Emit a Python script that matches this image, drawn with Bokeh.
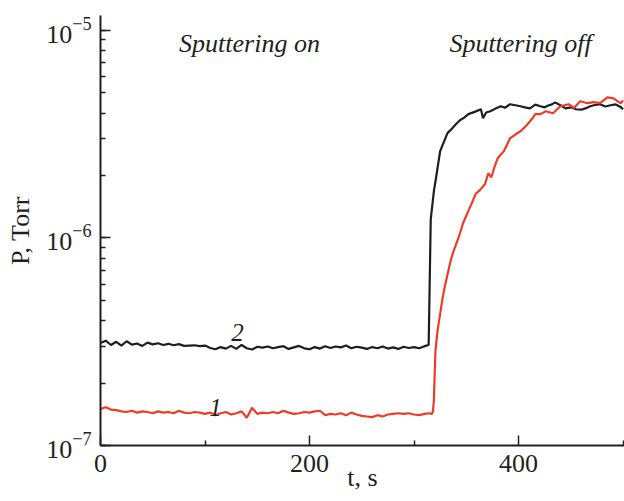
from bokeh.plotting import figure
from bokeh.models import Range1d, FixedTicker, LogTicker, Label
from bokeh.embed import file_html
from bokeh.resources import INLINE

# ---- data (pressure in units of 1e-7 Torr) ----
t_flat = list(range(0, 315, 5))

black_flat = [3.12, 3.20, 3.05, 3.16, 3.03, 3.18, 3.06, 3.10, 3.02, 3.13,
              3.07, 3.11, 3.05, 3.09, 3.04, 3.08, 3.02, 3.03, 3.04, 3.01,
              3.03, 2.95, 2.91, 2.98, 2.93, 3.02, 2.92, 3.05, 2.94, 2.90,
              2.99, 2.96, 3.00, 2.94, 2.98, 3.01, 2.92, 2.97, 3.02, 2.94,
              2.91, 2.98, 2.93, 3.01, 2.95, 3.00, 2.97, 3.03, 2.94, 2.99,
              2.96, 2.92, 2.98, 2.94, 3.00, 2.93, 2.97, 2.92, 2.99, 2.95,
              2.98, 2.94, 3.01]
black_rise_t = [314, 316, 319, 321, 325, 332, 336, 340, 344, 348, 352, 358,
                364, 366, 369, 373, 378, 383, 387, 392, 397, 402, 406, 411,
                416, 421, 425, 429, 432, 435, 440, 445, 450, 455, 460, 464,
                468, 472, 478, 483, 488, 493, 498, 500]
black_rise_p = [3.05, 12.3, 16.8, 19.4, 26.2, 32.0, 33.5, 35.3, 36.9, 38.0,
                39.5, 40.5, 41.7, 37.8, 40.2, 40.8, 42.0, 43.1, 42.4, 44.1,
                43.6, 43.1, 42.6, 42.1, 43.9, 43.1, 42.6, 43.6, 44.0, 45.0,
                43.6, 42.1, 42.6, 41.7, 41.5, 42.1, 43.0, 43.6, 44.1, 43.0,
                43.6, 44.0, 42.6, 41.7]

red_flat = [1.50, 1.53, 1.49, 1.48, 1.46, 1.45, 1.47, 1.44, 1.46, 1.45,
            1.43, 1.46, 1.44, 1.45, 1.43, 1.47, 1.44, 1.43, 1.45, 1.44,
            1.42, 1.44, 1.40, 1.43, 1.45, 1.41, 1.43, 1.46, 1.36, 1.52,
            1.42, 1.44, 1.43, 1.45, 1.43, 1.47, 1.44, 1.42, 1.43, 1.45,
            1.44, 1.46, 1.47, 1.40, 1.42, 1.41, 1.43, 1.40, 1.44, 1.41,
            1.39, 1.38, 1.37, 1.40, 1.38, 1.41, 1.42, 1.43, 1.42, 1.43,
            1.41, 1.40, 1.42]
red_rise_t = [314, 317, 318, 319, 320.5, 322.5, 325, 327.5, 330, 335, 338,
              342.5, 347, 352, 355, 359, 363, 368, 371, 374, 377, 380, 386,
              392, 397, 402, 408, 413, 416, 421, 426, 433, 440, 448, 453,
              459, 466, 472, 478, 485, 491, 495, 498, 500]
red_rise_p = [1.43, 1.42, 1.45, 1.65, 2.86, 3.57, 4.31, 5.2, 6.01, 7.75, 8.7,
              10.0, 11.8, 13.5, 14.6, 16.3, 17.0, 18.2, 20.5, 19.6, 22.0, 24.2,
              26.2, 30.3, 31.5, 32.7, 35.0, 37.5, 39.5, 39.5, 40.8, 39.9, 43.1,
              44.1, 42.3, 45.6, 44.6, 45.1, 44.6, 47.6, 47.1, 45.5, 44.6, 46.0]

x_major = [0, 200, 400]
x_minor = [100, 300, 500]

t_black = t_flat + black_rise_t
p_black = [v * 1e-7 for v in black_flat + black_rise_p]
t_red = t_flat + red_rise_t
p_red = [v * 1e-7 for v in red_flat + red_rise_p]

SERIF = "Liberation Serif"
TXT = "#231f20"

p = figure(width=624, height=501, output_backend="svg", toolbar_location=None,
           y_axis_type="log",
           x_range=Range1d(0, 501.4), y_range=Range1d(1e-7, 1.18e-5),
           min_border_left=100, min_border_right=0, min_border_top=15,
           min_border_bottom=56)
p.outline_line_color = None
p.grid.visible = False
p.background_fill_color = "white"
p.border_fill_color = "white"

p.line(t_black, p_black, line_color="#1e1e1e", line_width=2.2)
p.line(t_red, p_red, line_color="#ef3b26", line_width=2.2)

xa = p.xaxis[0]
xa.ticker = FixedTicker(ticks=x_major, minor_ticks=x_minor)
ya = p.yaxis[0]
ya.ticker = LogTicker(num_minor_ticks=10)
xa.axis_label = "t, s"
ya.axis_label = "P, Torr"
xa.axis_label_standoff = -12
ya.axis_label_standoff = 8
for ax in (xa, ya):
    ax.axis_line_width = 2
    ax.axis_line_color = TXT
    ax.major_tick_in = 10
    ax.major_tick_out = 0
    ax.minor_tick_in = 5
    ax.minor_tick_out = 0
    ax.major_tick_line_width = 1.5
    ax.minor_tick_line_width = 1.5
    ax.major_tick_line_color = TXT
    ax.minor_tick_line_color = TXT
    ax.major_label_text_font = SERIF
    ax.major_label_text_font_size = "26px"
    ax.major_label_text_color = TXT
    ax.major_label_standoff = 9
    ax.axis_label_text_font = SERIF
    ax.axis_label_text_font_size = "26px"
    ax.axis_label_text_font_style = "normal"
    ax.axis_label_text_color = TXT

# annotations
for x, y, txt, fs in [(142.6, 8.65e-6, "Sputtering on", "26px"),
                      (401.9, 8.65e-6, "Sputtering off", "26px"),
                      (131.1, 3.51e-7, "2", "25px"),
                      (110.0, 1.52e-7, "1", "25px")]:
    p.add_layout(Label(x=x, y=y, text=txt, text_font=SERIF,
                       text_font_style="italic", text_font_size=fs,
                       text_align="center", text_baseline="alphabetic",
                       text_color=TXT))

open("out.html", "w").write(file_html(p, INLINE))
